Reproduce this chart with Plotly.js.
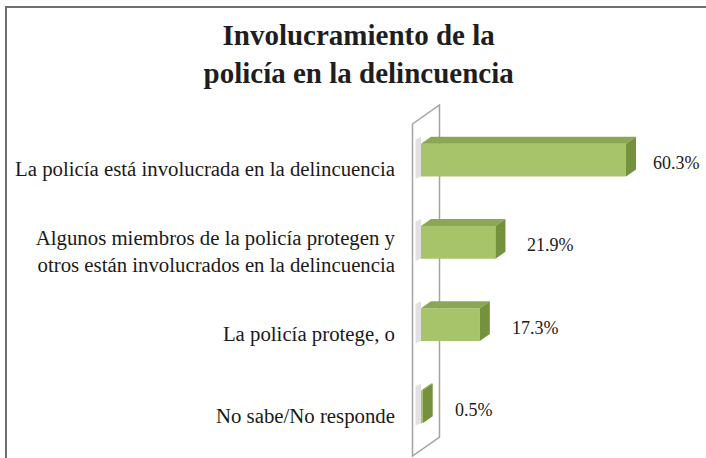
<!DOCTYPE html>
<html>
<head>
<meta charset="utf-8">
<script src="https://cdn.plot.ly/plotly-3.0.1.min.js"></script>
<style>html,body{margin:0;padding:0;background:#fff;}#chart{width:706px;height:458px;}</style>
</head>
<body>
<div id="chart"></div>
<script>
// ---- data ----
const titleText = "Involucramiento de la<br>policía en la delincuencia";
const categories = [
  "La policía está involucrada en la delincuencia",
  "Algunos miembros de la policía protegen y<br>otros están involucrados en la delincuencia",
  "La policía protege, o",
  "No sabe/No responde"
];
const values = [60.3, 21.9, 17.3, 0.5];
const valueLabels = ["60.3%", "21.9%", "17.3%", "0.5%"];

// ---- layout geometry ----
const W = 706, H = 458;
const M = {l: 421, r: 0, t: 119, b: 10};
const plotW = W - M.l - M.r, plotH = H - M.t - M.b;
const pxPerUnit = 3.4;
const xMax = plotW / pxPerUnit;
const nCat = categories.length;
const pxPerCat = plotH / nCat;
const barW = 0.40;
const depthDx = 10 / pxPerUnit;      // 3D depth offset in x data units
const depthDy = 7 / pxPerCat;        // 3D depth offset in category units (up = smaller index)
const yIdx = categories.map((c, i) => i);

const cFront = "#a8c46b", cTop = "#8ba654", cSide = "#76913e";

const px2x = p => (p - M.l) / plotW;
const py2y = p => (H - M.b - p) / plotH;

const shapes = [];
// frame
shapes.push({type: "path", xref: "paper", yref: "paper", layer: "below",
  path: `M ${px2x(6)},${py2y(470)} L ${px2x(6)},${py2y(7)} L ${px2x(720)},${py2y(7)}`,
  line: {color: "#6e6e6e", width: 2}});
// back wall (3D)
shapes.push({type: "path", xref: "paper", yref: "paper", layer: "below",
  path: `M ${px2x(412.5)},${py2y(124)} L ${px2x(439.5)},${py2y(105)} L ${px2x(439.5)},${py2y(437)} L ${px2x(412.5)},${py2y(456)} Z`,
  line: {color: "#a3a3a3", width: 1.5}, fillcolor: "rgba(255,255,255,0)"});

// soft shadows of the bars on the wall
yIdx.forEach(i => {
  const yT = i - barW / 2, yB = i + barW / 2;
  shapes.push({type: "path", xref: "paper", yref: "y", layer: "below",
    path: `M ${px2x(415.5)},${yT - depthDy * 0.6} L ${px2x(421)},${yT - depthDy} L ${px2x(421)},${yB} L ${px2x(415.5)},${yB + depthDy * 0.3} Z`,
    fillcolor: "rgba(200,200,200,0.55)", line: {width: 0}});
});

// 3D faces of bars
values.forEach((v, i) => {
  const yT = i - barW / 2, yB = i + barW / 2;
  shapes.push({type: "path", xref: "x", yref: "y", layer: "above",
    path: `M 0,${yT} L ${v},${yT} L ${v + depthDx},${yT - depthDy} L ${depthDx},${yT - depthDy} Z`,
    fillcolor: cTop, line: {width: 0}});
  shapes.push({type: "path", xref: "x", yref: "y", layer: "above",
    path: `M ${v},${yT} L ${v + depthDx},${yT - depthDy} L ${v + depthDx},${yB - depthDy} L ${v},${yB} Z`,
    fillcolor: cSide, line: {width: 0}});
});

const annotations = values.map((v, i) => {
  const startPx = M.l + v * pxPerUnit;
  const shift = Math.min(30, W - 55 - startPx);
  return {x: v, y: i, xref: "x", yref: "y", text: valueLabels[i], showarrow: false,
    xanchor: "left", yanchor: "middle", xshift: shift, yshift: -3,
    font: {family: "Liberation Serif", size: 18, color: "#1a1a1a"}};
});

const trace = {
  type: "bar", orientation: "h",
  x: values, y: yIdx, width: barW,
  marker: {color: cFront, line: {width: 0}},
  hoverinfo: "skip", cliponaxis: false
};

const layout = {
  width: W, height: H,
  margin: M,
  paper_bgcolor: "#ffffff", plot_bgcolor: "rgba(0,0,0,0)",
  showlegend: false,
  title: {text: titleText, xref: "container", yref: "container", x: 0.508, xanchor: "center",
    y: 1 - 45 / H, yanchor: "top",
    font: {family: "Liberation Serif", size: 29, color: "#1e1e1e", weight: "bold"}},
  xaxis: {range: [0, xMax], visible: false, fixedrange: true},
  yaxis: {range: [nCat - 0.5, -0.5], tickmode: "array", tickvals: yIdx, ticktext: categories,
    showgrid: false, zeroline: false, showline: false, ticks: "",
    ticklabelstandoff: 25, ticklabelshift: -9,
    tickfont: {family: "Liberation Serif", size: 20.8, color: "#1a1a1a"}, fixedrange: true},
  shapes: shapes,
  annotations: annotations
};

Plotly.newPlot("chart", [trace], layout, {displayModeBar: false, staticPlot: true});
</script>
</body>
</html>
